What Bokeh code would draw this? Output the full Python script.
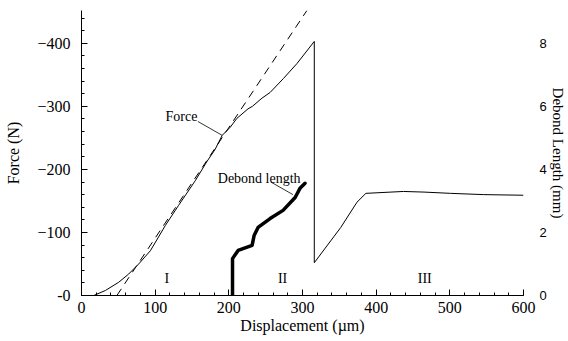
import math
from bokeh.plotting import figure
from bokeh.models import Range1d, LinearAxis, FixedTicker, Label
from bokeh.embed import file_html
from bokeh.resources import INLINE

# Force vs displacement (N, negative = compression)
force_x = [16.7, 32.5, 50.5, 64, 77.6, 93.5, 113.8, 131.8, 154.4, 170, 181.5, 191, 202, 211,
           226, 232, 245, 256, 274, 292.6, 316,
           316, 352, 374, 386, 420, 437, 465, 501, 546, 600]
force_y = [0, -8, -21, -34, -50, -71, -111, -143, -182, -212, -232, -254, -267, -281,
           -296, -300, -313, -322, -344, -368, -403,
           -52, -108, -148, -162, -164, -165, -164, -162, -160, -159]

# Linear-elastic dashed reference line
dash_x = [48, 306]
dash_y = [0, -452]

# Debond length (mm)
debond_x = [205, 205, 212.6, 231.6, 234.3, 239.7, 256, 273.6, 290, 296.6, 303.4]
debond_y = [0, 1.17, 1.43, 1.59, 1.90, 2.16, 2.44, 2.70, 3.11, 3.40, 3.56]

x_ticks = [0, 100, 200, 300, 400, 500, 600]
y_ticks = [0, -100, -200, -300, -400]
y_tick_labels = ["-0", "\u2212100", "\u2212200", "\u2212300", "\u2212400"]
r_ticks = [0, 2, 4, 6, 8]

SERIF = "Liberation Serif"
SANS = "Liberation Sans"

p = figure(width=568, height=341, output_backend="svg", toolbar_location=None,
           x_range=Range1d(0, 600), y_range=Range1d(0, -452),
           min_border_left=81, min_border_right=44, min_border_top=10, min_border_bottom=46,
           background_fill_color="white", border_fill_color="white")
p.outline_line_color = None
p.xgrid.visible = False
p.ygrid.visible = False

p.extra_y_ranges = {"debond": Range1d(0, 9.04)}

# Curves
p.line(force_x, force_y, line_color="black", line_width=1)
p.line(dash_x, dash_y, line_color="black", line_width=1, line_dash="8 6")
p.line(debond_x, debond_y, line_color="black", line_width=3.5, y_range_name="debond",
       line_join="round", line_cap="round")

# Axes styling
xa = p.xaxis[0]
xa.ticker = FixedTicker(ticks=x_ticks, minor_ticks=list(range(0, 601, 20)))
xa.axis_label = "Displacement (\u00b5m)"
ya = p.yaxis[0]
ya.ticker = FixedTicker(ticks=y_ticks, minor_ticks=list(range(0, -460, -20)))
ya.major_label_overrides = {t: l for t, l in zip(y_ticks, y_tick_labels)}
ya.axis_label = "Force (N)"

for ax in (xa, ya):
    ax.axis_line_color = "black"
    ax.major_tick_line_color = "black"
    ax.minor_tick_line_color = "black"
    ax.major_tick_in = 6
    ax.major_tick_out = 0
    ax.minor_tick_in = 3
    ax.minor_tick_out = 0
    ax.major_label_text_font = SERIF
    ax.major_label_text_font_size = "16px"
    ax.major_label_text_color = "black"
    ax.axis_label_text_font = SERIF
    ax.axis_label_text_font_size = "16px"
    ax.axis_label_text_font_style = "normal"
    ax.axis_label_text_color = "black"
xa.major_label_standoff = 6
xa.axis_label_standoff = 1
ya.major_label_standoff = 11
ya.axis_label_standoff = 12

ra = LinearAxis(y_range_name="debond", ticker=FixedTicker(ticks=r_ticks),
                axis_label="Debond Length (mm)")
ra.axis_line_color = None
ra.major_tick_line_color = None
ra.minor_tick_line_color = None
ra.major_label_text_font = SANS
ra.major_label_text_font_size = "13px"
ra.major_label_text_color = "black"
ra.major_label_standoff = 10
ra.axis_label_text_font = SERIF
ra.axis_label_text_font_size = "15px"
ra.axis_label_text_font_style = "normal"
ra.axis_label_text_color = "black"
ra.axis_label_standoff = 0
p.add_layout(ra, "right")

# Annotations
def lab(x, y, t, align="left", y_range_name="default"):
    p.add_layout(Label(x=x, y=y, text=t, text_font=SERIF, text_font_size="14px",
                       text_align=align, text_baseline="middle", text_color="black",
                       y_range_name=y_range_name))

lab(114, -284, "Force")
p.line([158, 191], [-276, -254], line_color="black", line_width=0.8)
lab(185, 3.7, "Debond length", y_range_name="debond")
p.line([257, 287], [3.6, 3.2], line_color="black", line_width=0.8, y_range_name="debond")

lab(116, -27, "I", align="center")
lab(273, -27, "II", align="center")
lab(466, -27, "III", align="center")

open("out.html", "w").write(file_html(p, INLINE))
